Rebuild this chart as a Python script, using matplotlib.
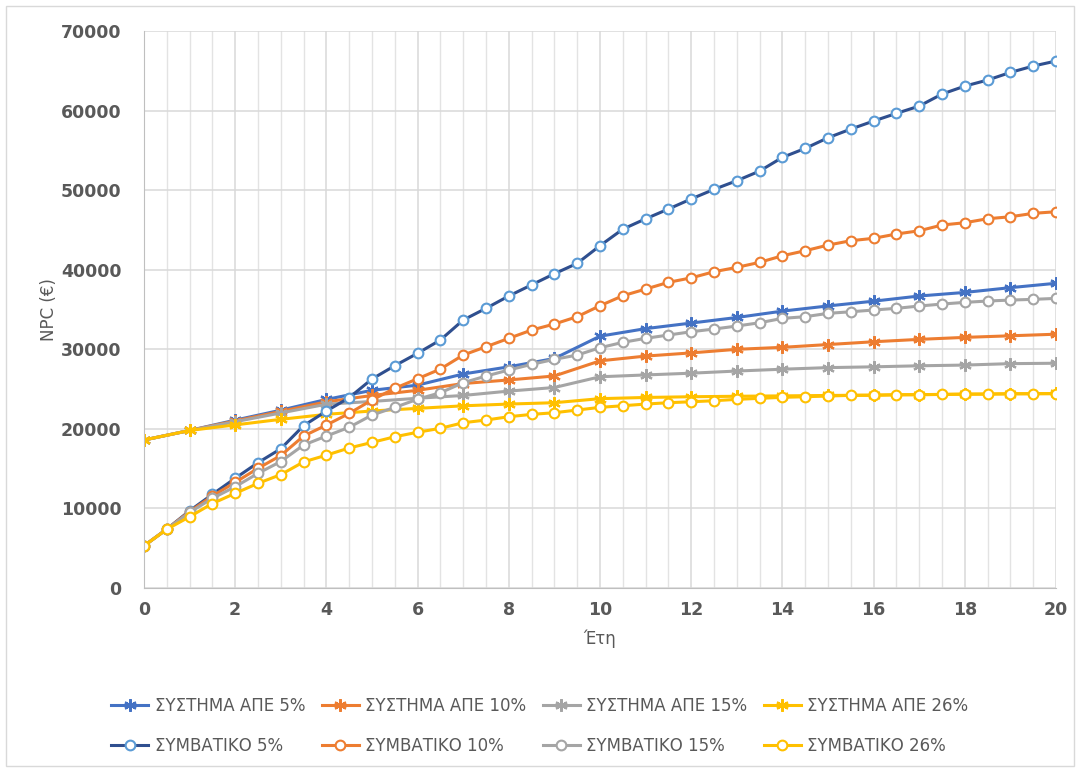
import numpy as np
import matplotlib
matplotlib.use('Agg')
import matplotlib.pyplot as plt
from matplotlib.ticker import MultipleLocator
from matplotlib.patches import Rectangle

# years: system series every year, conventional every half year
years_sys = list(range(0, 21))
years_conv = [i * 0.5 for i in range(0, 41)]

sys_5 = [18600, 19800, 21100, 22350, 23700, 24850, 25500, 26900, 27800, 28850, 31650,
         32600, 33300, 34000, 34800, 35450, 36050, 36700, 37150, 37750, 38300]
sys_10 = [18600, 19800, 21000, 22200, 23400, 24200, 24850, 25700, 26150, 26650, 28550,
          29150, 29550, 30000, 30250, 30600, 30950, 31250, 31500, 31700, 31900]
sys_15 = [18600, 19800, 20900, 22000, 23100, 23450, 23850, 24200, 24750, 25200, 26550,
          26780, 27000, 27270, 27500, 27700, 27800, 27930, 28020, 28200, 28250]
sys_26 = [18600, 19800, 20500, 21200, 21830, 22250, 22580, 22900, 23120, 23290, 23800,
          23950, 24040, 24100, 24150, 24200, 24250, 24300, 24350, 24400, 24450]

conv_5 = [5300, 7400, 9700, 11770, 13790, 15750, 17500, 20400, 22240, 23920, 26270,
          27940, 29500, 31170, 33680, 35150, 36700, 38100, 39500, 40800, 43020,
          45100, 46400, 47630, 48900, 50100, 51190, 52400, 54120, 55250, 56590,
          57680, 58690, 59650, 60570, 62080, 63080, 63840, 64800, 65600, 66230]
conv_10 = [5300, 7400, 9600, 11560, 13280, 15040, 16650, 19100, 20480, 21950, 23630,
           25100, 26300, 27520, 29280, 30320, 31380, 32420, 33180, 34100, 35480,
           36730, 37570, 38420, 38980, 39750, 40300, 40930, 41760, 42390, 43100,
           43650, 43950, 44490, 44900, 45620, 45910, 46410, 46660, 47090, 47290]
conv_15 = [5300, 7400, 9500, 11270, 12730, 14410, 15900, 17970, 19100, 20200, 21740,
           22700, 23730, 24545, 25800, 26640, 27400, 28110, 28740, 29280, 30200,
           30875, 31380, 31795, 32210, 32550, 32925, 33340, 33890, 34100, 34520,
           34720, 34940, 35150, 35440, 35690, 35900, 36070, 36190, 36280, 36400]
conv_26 = [5300, 7380, 8960, 10620, 11900, 13160, 14250, 15850, 16700, 17600, 18300,
           19010, 19580, 20070, 20775, 21110, 21530, 21825, 22030, 22370, 22705,
           22910, 23120, 23290, 23410, 23540, 23710, 23840, 23965, 24040, 24130,
           24215, 24215, 24300, 24300, 24340, 24380, 24380, 24420, 24420, 24420]

sys_labels = ['ΣΥΣΤΗΜΑ ΑΠΕ 5%', 'ΣΥΣΤΗΜΑ ΑΠΕ 10%', 'ΣΥΣΤΗΜΑ ΑΠΕ 15%', 'ΣΥΣΤΗΜΑ ΑΠΕ 26%']
conv_labels = ['ΣΥΜΒΑΤΙΚΟ 5%', 'ΣΥΜΒΑΤΙΚΟ 10%', 'ΣΥΜΒΑΤΙΚΟ 15%', 'ΣΥΜΒΑΤΙΚΟ 26%']

sys_colors = ['#4472C4', '#ED7D31', '#A5A5A5', '#FFC000']
conv_line_colors = ['#2F4F8F', '#ED7D31', '#A5A5A5', '#FFC000']
conv_edge_colors = ['#5B9BD5', '#ED7D31', '#A5A5A5', '#FFC000']

text_col = '#595959'
plt.rcParams['font.family'] = ['DejaVu Sans']

fig = plt.figure(figsize=(10.8, 7.72), dpi=100)
ax = fig.add_axes([0.1333, 0.2383, 0.8445, 0.7215])

star = (6, 2, 0)
h_sys = []
for vals, col, lab in zip([sys_5, sys_10, sys_15, sys_26], sys_colors, sys_labels):
    ln, = ax.plot(years_sys, vals, color=col, lw=2.2, marker=star, ms=9, mew=1.6,
                  mec=col, label=lab)
    h_sys.append(ln)

h_conv = []
for vals, lc, ec, lab in zip([conv_5, conv_10, conv_15, conv_26], conv_line_colors,
                             conv_edge_colors, conv_labels):
    ln, = ax.plot(years_conv, vals, color=lc, lw=2.2, marker='o', ms=7, mew=1.5,
                  mec=ec, mfc='white', label=lab)
    h_conv.append(ln)

ax.set_xlim(0, 20)
ax.set_ylim(0, 70000)
ax.xaxis.set_major_locator(MultipleLocator(2))
ax.xaxis.set_minor_locator(MultipleLocator(0.5))
ax.yaxis.set_major_locator(MultipleLocator(10000))
ax.grid(which='major', color='#D9D9D9', lw=1.1)
ax.grid(which='minor', axis='x', color='#E3E3E3', lw=1.0)
ax.set_axisbelow(True)
for s in ['top', 'right']:
    ax.spines[s].set_visible(False)
for s in ['left', 'bottom']:
    ax.spines[s].set_color('#BFBFBF')
ax.tick_params(which='both', length=0)
ax.tick_params(axis='y', pad=16, labelsize=12.5, labelcolor=text_col)
ax.tick_params(axis='x', pad=9, labelsize=12.5, labelcolor=text_col)
for t in ax.get_xticklabels() + ax.get_yticklabels():
    t.set_fontweight('bold')

ax.set_ylabel('NPC (€)', fontsize=12, color=text_col, labelpad=2)
ax.set_xlabel('Έτη', fontsize=12, color=text_col, labelpad=8)

handles = []
for a, b in zip(h_sys, h_conv):
    handles += [a, b]
fig.legend(handles=handles, labels=[h.get_label() for h in handles], ncol=4,
           loc='center', bbox_to_anchor=(0.5, 0.06), frameon=False, fontsize=12,
           labelcolor=text_col, handlelength=2.2, columnspacing=1.0,
           handletextpad=0.4, labelspacing=1.3)

fig.patches.append(Rectangle((0.006, 0.008), 0.988, 0.984, transform=fig.transFigure,
                             fill=False, edgecolor='#D9D9D9', lw=1))

fig.savefig('out.png', dpi=100)
